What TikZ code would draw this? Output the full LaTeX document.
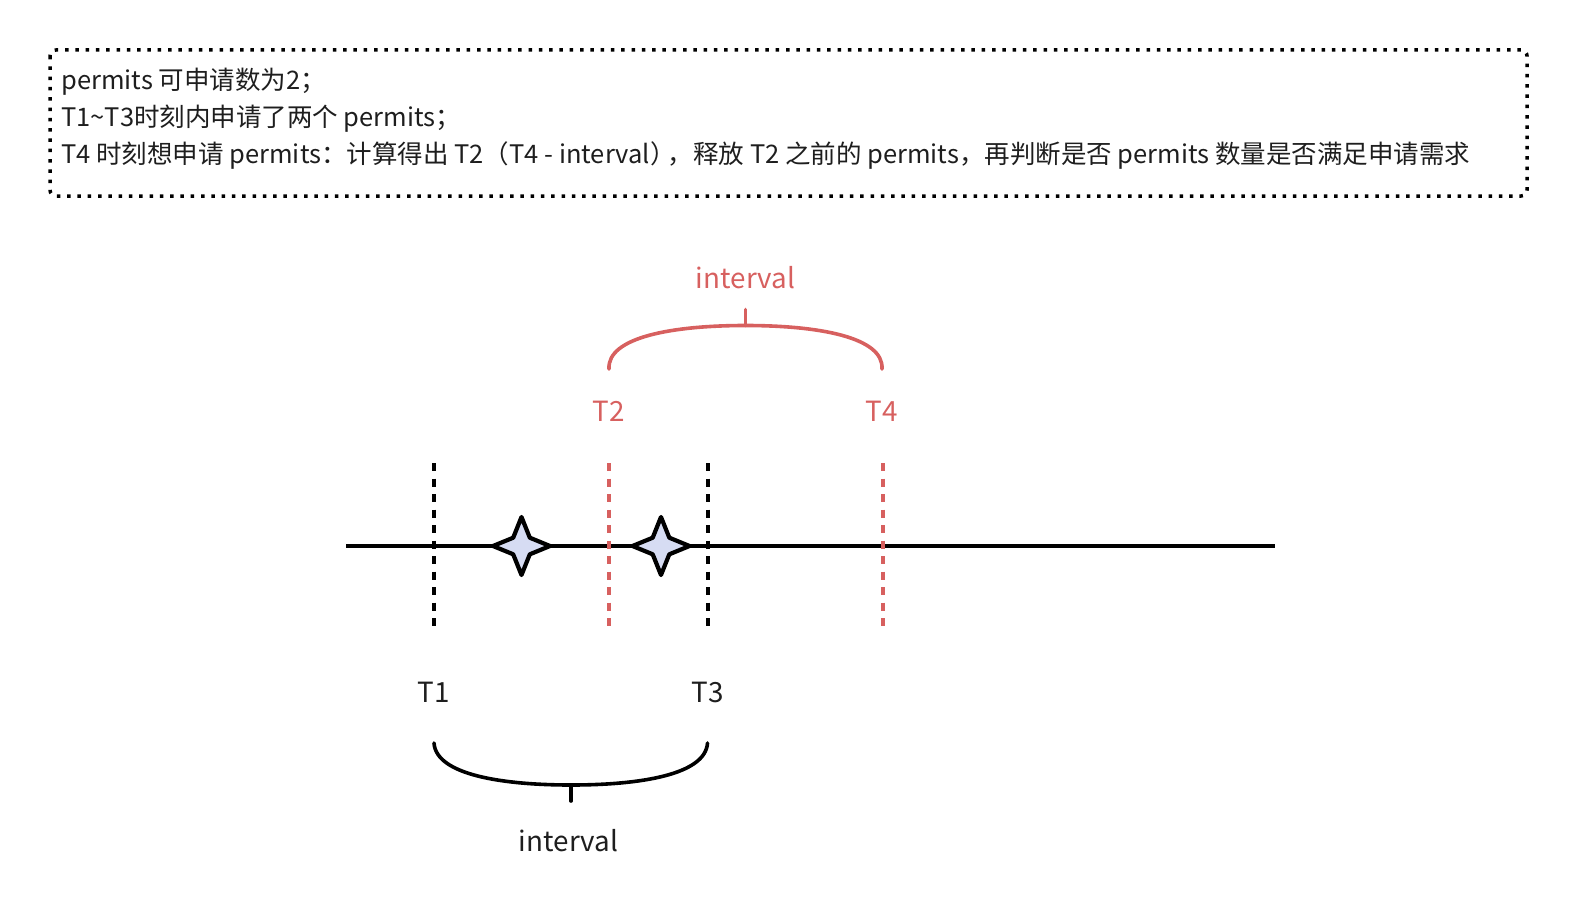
\documentclass[tikz,border=0pt]{standalone}
\usepackage{fontspec}
\setmainfont{Noto Sans CJK SC}
\usetikzlibrary{calc}
\definecolor{redc}{RGB}{215,96,95}
\definecolor{starfill}{RGB}{214,220,243}
\definecolor{txt}{RGB}{30,30,30}
\tikzset{
  x=1pt, y=-1pt,
  notebox/.style={line width=3.5pt, dash pattern=on 3.5pt off 6.8pt, rounded corners=6pt, black},
  boxtext/.style={anchor=base west, inner sep=0pt, text=txt, font=\fontsize{25.5}{30}\selectfont},
  lbl/.style={inner sep=0pt, text=txt, font=\fontsize{27.8}{30}\selectfont},
  redlbl/.style={lbl, text=redc},
  axisline/.style={line width=4pt, black},
  tickblack/.style={line width=4pt, dash pattern=on 8pt off 7.5pt, black},
  tickred/.style={line width=4pt, dash pattern=on 8pt off 7.5pt, redc},
  bracestyle/.style={line width=3.6pt, line cap=round},
  starstyle/.style={line width=4.2pt, draw=black, fill=starfill, line join=round},
}
\begin{document}
\begin{tikzpicture}
\useasboundingbox (0,0) rectangle (1576,907);

% note box
\draw[notebox] (50,50) rectangle (1527,196);
\node[boxtext] (l1) at (61,89.5) {permits 可申请数为2；};
\node[boxtext] (l2) at (61,126.6) {T1\textasciitilde T3时刻内申请了两个 permits；};
\node[boxtext] (l3) at (61,163.8) {T4 时刻想申请 permits：计算得出 T2（T4 - interval）\kern-0.3em，释放 T2 之前的 permits，再判断是否 permits 数量是否满足申请需求};

% timeline
\coordinate (axL) at (346,546);
\coordinate (axR) at (1275,546);
\draw[axisline] (axL) -- (axR);

% tick lines
\coordinate (t1a) at (434,463);   \coordinate (t1b) at (434,629);
\coordinate (t2a) at (609,463);   \coordinate (t2b) at (609,629);
\coordinate (t3a) at (707.5,463); \coordinate (t3b) at (707.5,629);
\coordinate (t4a) at (882.5,463); \coordinate (t4b) at (882.5,629);
\draw[tickblack] (t1a) -- (t1b);
\draw[tickblack] (t3a) -- (t3b);
\draw[tickred] (t2a) -- (t2b);
\draw[tickred] (t4a) -- (t4b);

% stars
\coordinate (s1) at (521.5,546);
\coordinate (s2) at (661,546);
\foreach \s in {s1,s2}{
  \begin{scope}[shift={(\s)}]
    \draw[starstyle] (28.5,0) -- (8.3,8.3) -- (0,29) -- (-8.3,8.3) -- (-28.5,0)
      -- (-8.3,-8.3) -- (0,-29) -- (8.3,-8.3) -- cycle;
  \end{scope}
}

% labels
\node[lbl] (T1) at (434,692) {T1};
\node[lbl] (T3) at (707.5,692) {T3};
\node[redlbl] (T2) at (609,411) {T2};
\node[redlbl] (T4) at (882,411) {T4};
\node[redlbl] (ivTop) at (745.5,277.5) {interval};
\node[lbl] (ivBot) at (568.5,841) {interval};

% red brace
\coordinate (rbL) at (609,369);
\coordinate (rbR) at (882,369);
\coordinate (rbM) at (745.5,325.5);
\coordinate (rbT) at (745.5,309.5);
\draw[bracestyle, redc] (rbL) .. controls (607,337) and (673,325.5) .. (rbM)
  .. controls (818,325.5) and (884,337) .. (rbR);
\draw[bracestyle, redc] (rbM) -- (rbT);

% black brace
\coordinate (bbL) at (434,743);
\coordinate (bbR) at (707.5,743);
\coordinate (bbM) at (571,785);
\coordinate (bbT) at (571,801);
\draw[bracestyle, black] (bbL) .. controls (436,775) and (503,785) .. (bbM)
  .. controls (639,785) and (705.5,775) .. (bbR);
\draw[bracestyle, black] (bbM) -- (bbT);
\end{tikzpicture}
\end{document}
